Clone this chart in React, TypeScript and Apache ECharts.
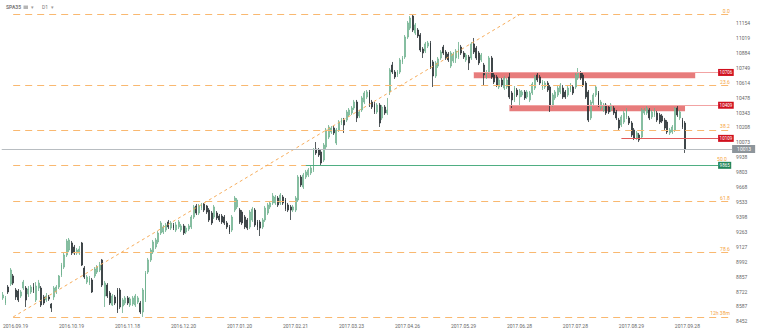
import React, { useEffect, useRef } from 'react';
import * as echarts from 'echarts';

// Daily candles [open, close, low, high], 2016-09-19 .. 2017-10-04
const ohlc: number[][] = [
  [8664,8691,8646,8718],[8618,8664,8600,8682],[8763,8718,8700,8781],[8790,8917,8772,8935],[8863,8799,8781,8881],
  [8736,8673,8646,8754],[8727,8646,8627,8745],[8682,8718,8664,8736],[8754,8808,8736,8827],[8754,8646,8582,8772],
  [8700,8745,8673,8772],[8718,8763,8700,8781],[8763,8736,8709,8799],[8646,8772,8627,8808],[8754,8799,8727,8827],
  [8754,8600,8582,8772],[8673,8618,8600,8691],[8646,8682,8627,8709],[8673,8655,8637,8691],[8609,8573,8537,8618],
  [8673,8754,8646,8772],[8718,8763,8700,8781],[8763,8863,8745,8872],[8872,8962,8854,8981],[8944,9053,8926,9071],
  [9053,9180,9035,9198],[9098,9189,9080,9207],[9162,9071,9053,9180],[9125,9071,9053,9144],[9071,9098,9053,9116],
  [9071,9107,9053,9134],[9162,8962,8953,9171],[8935,8854,8836,8953],[8808,8854,8790,8872],[8799,8845,8781,8863],
  [8827,8718,8709,8845],[8863,8926,8845,8944],[8899,8944,8881,8962],[8917,8962,8899,8990],[9008,8781,8763,9017],
  [8682,8799,8582,8818],[8781,8682,8664,8799],[8709,8618,8600,8727],[8600,8682,8591,8700],[8673,8618,8600,8691],
  [8736,8555,8528,8754],[8736,8582,8564,8754],[8591,8646,8528,8664],[8618,8664,8600,8682],[8664,8618,8600,8682],
  [8600,8655,8582,8673],[8609,8664,8591,8682],[8600,8682,8582,8700],[8627,8664,8609,8682],[8618,8537,8519,8637],
  [8537,8736,8492,8754],[8646,8890,8627,8908],[8899,9008,8881,9026],[9008,9098,8990,9116],[9080,9171,9062,9189],
  [9125,9189,9107,9207],[9171,9252,9153,9270],[9252,9343,9234,9361],[9261,9307,9243,9325],[9279,9325,9261,9343],
  [9352,9307,9288,9370],[9297,9343,9279,9361],[9325,9297,9279,9343],[9279,9325,9261,9352],[9307,9352,9288,9370],
  [9279,9316,9261,9334],[9316,9252,9234,9334],[9261,9297,9243,9316],[9288,9316,9270,9334],[9307,9397,9288,9415],
  [9397,9488,9379,9506],[9497,9433,9415,9515],[9433,9497,9415,9515],[9478,9506,9460,9524],[9515,9460,9442,9524],
  [9497,9442,9424,9506],[9460,9370,9352,9478],[9433,9343,9325,9451],[9397,9488,9379,9506],[9433,9388,9370,9451],
  [9406,9370,9352,9424],[9406,9352,9334,9424],[9397,9343,9325,9415],[9343,9307,9288,9361],[9307,9261,9243,9325],
  [9279,9397,9261,9415],[9460,9569,9442,9587],[9488,9551,9469,9569],[9460,9352,9334,9478],[9442,9343,9325,9460],
  [9397,9307,9288,9415],[9370,9297,9279,9388],[9307,9442,9288,9460],[9370,9469,9352,9488],[9460,9325,9307,9478],
  [9352,9307,9279,9370],[9352,9297,9225,9370],[9307,9370,9288,9388],[9370,9478,9352,9497],[9433,9506,9415,9524],
  [9488,9524,9469,9542],[9524,9587,9506,9614],[9524,9578,9506,9596],[9569,9506,9488,9587],[9524,9596,9506,9614],
  [9578,9524,9506,9596],[9551,9469,9451,9569],[9506,9460,9442,9524],[9488,9460,9370,9506],[9460,9488,9442,9506],
  [9460,9569,9442,9587],[9551,9759,9533,9777],[9759,9687,9669,9777],[9669,9777,9651,9796],[9759,9805,9741,9823],
  [9777,9823,9759,9841],[9796,9841,9777,9859],[9823,10004,9805,10022],[10013,9977,9959,10076],[10004,9959,9941,10022],
  [9986,9886,9868,10004],[9913,10049,9895,10067],[10031,10185,10013,10203],[10121,10212,10103,10230],[10167,10203,10149,10221],
  [10203,10158,10140,10221],[10067,10185,10049,10203],[10185,10257,10167,10275],[10248,10275,10230,10294],[10275,10230,10158,10294],
  [10275,10348,10257,10366],[10321,10366,10303,10384],[10339,10384,10321,10402],[10384,10438,10366,10457],[10438,10294,10257,10457],
  [10312,10348,10294,10366],[10366,10475,10348,10493],[10438,10520,10420,10538],[10484,10529,10466,10547],[10529,10411,10393,10547],
  [10438,10393,10375,10457],[10420,10348,10330,10438],[10348,10411,10330,10429],[10411,10248,10212,10429],[10294,10393,10275,10411],
  [10393,10339,10321,10411],[10339,10366,10321,10475],[10529,10728,10502,10746],[10773,10710,10692,10801],[10710,10665,10647,10728],
  [10683,10710,10665,10728],[10710,10819,10692,10837],[10801,10837,10782,10855],[10846,11027,10828,11045],[11027,11154,11009,11172],
  [11108,11199,11090,11217],[11217,11090,11072,11235],[11063,11136,11045,11154],[11090,11036,11018,11108],[11045,10909,10891,11063],
  [10918,10882,10837,10936],[10900,10964,10882,10982],[10945,10973,10927,10991],[10973,10755,10737,10991],[10801,10674,10574,10819],
  [10674,10792,10656,10810],[10764,10828,10746,10846],[10837,10891,10819,10909],[10936,10882,10864,10955],[10891,10837,10819,10909],
  [10873,10819,10801,10891],[10764,10882,10746,10900],[10810,10873,10792,10891],[10837,10900,10792,10918],[10846,10918,10828,10982],
  [10936,10882,10864,10955],[10882,10846,10828,10900],[10819,10864,10801,10882],[10846,10792,10728,10864],[10837,10964,10819,10982],
  [10964,10891,10873,11018],[10927,10837,10819,10945],[10882,10792,10773,10900],[10819,10864,10801,10882],[10773,10683,10592,10792],
  [10665,10710,10647,10728],[10710,10837,10692,10855],[10837,10665,10647,10855],[10683,10619,10601,10701],[10665,10592,10574,10683],
  [10574,10638,10556,10656],[10638,10592,10574,10656],[10565,10656,10547,10674],[10574,10638,10556,10656],[10665,10484,10466,10701],
  [10520,10457,10384,10538],[10457,10565,10438,10583],[10547,10502,10484,10565],[10484,10538,10411,10556],[10502,10529,10484,10547],
  [10529,10475,10457,10547],[10484,10529,10466,10547],[10457,10520,10438,10538],[10520,10601,10502,10619],[10565,10665,10547,10683],
  [10683,10638,10619,10701],[10665,10610,10592,10683],[10565,10619,10547,10638],[10574,10610,10556,10628],[10610,10547,10529,10628],
  [10574,10411,10348,10592],[10411,10502,10393,10520],[10475,10529,10457,10547],[10502,10565,10484,10583],[10529,10592,10511,10610],
  [10565,10484,10466,10592],[10529,10484,10466,10547],[10502,10565,10484,10583],[10547,10592,10529,10610],[10574,10520,10502,10592],
  [10574,10683,10556,10701],[10656,10701,10638,10746],[10701,10656,10638,10719],[10683,10592,10574,10701],[10610,10484,10466,10628],
  [10529,10275,10257,10547],[10294,10438,10275,10457],[10429,10502,10411,10520],[10502,10574,10484,10592],[10520,10411,10393,10538],
  [10384,10438,10366,10457],[10366,10411,10348,10429],[10411,10339,10321,10429],[10393,10348,10330,10411],[10366,10411,10348,10429],
  [10384,10339,10321,10402],[10348,10294,10275,10366],[10275,10203,10185,10294],[10230,10303,10212,10321],[10257,10339,10239,10357],
  [10303,10366,10284,10384],[10294,10248,10230,10312],[10248,10140,10121,10266],[10185,10112,10094,10203],[10112,10158,10094,10176],
  [10140,10094,10076,10158],[10121,10366,10103,10384],[10339,10366,10321,10384],[10339,10384,10321,10402],[10366,10294,10275,10384],
  [10303,10348,10284,10366],[10321,10366,10303,10384],[10339,10275,10257,10357],[10321,10257,10239,10339],[10312,10266,10248,10330],
  [10275,10203,10185,10294],[10257,10167,10149,10275],[10158,10185,10140,10203],[10167,10212,10149,10230],[10185,10384,10167,10393],
  [10384,10321,10303,10402],[10294,10348,10275,10366],[10275,10212,10194,10294],[10248,10013,9977,10266],
];

const yTicks = [8452, 8587, 8722, 8857, 8992, 9127, 9263, 9398, 9533, 9668, 9803, 9938, 10073, 10208, 10343, 10478, 10614, 10749, 10884, 11019, 11154];
const yMin = 8446.3;
const yMax = 11362;

const firstDate = [2016, 9, 19];
const marketHolidays = ['2016-12-26', '2017-04-14', '2017-04-17', '2017-05-01'];
const labelEvery = 22;
const futureSlots = 18;

const fibLevels = [11235, 10588, 10187, 9864, 9540, 9079, 8492];
const fibLabels = ['0.0', '23.6', '38.2', '50.0', '61.8', '78.6', '12h 38m'];
const fibLabelLift = [1, 1, 1, 4, 1, 1, 1];
const fibStart = 4;
const trendFrom = [4, 8492];
const trendTo = [203, 11230];

const zones = [
  { from: 185, to: 272, top: 10706, bottom: 10653 },
  { from: 199, to: 268, top: 10409, bottom: 10355 },
];
const tagIndex = 281;
const priceTags = [
  { from: 185, value: 10706, text: '10706', line: '#f2a3a3', bg: '#d0101e' },
  { from: 199, value: 10409, text: '10409', line: '#f2a3a3', bg: '#d0101e' },
  { from: 243, value: 10109, text: '10109', line: '#e25b5b', bg: '#d0101e' },
  { from: 119, value: 9865, text: '9865', line: '#4fae82', bg: '#22865a' },
];
const currentPrice = 10013;

function buildDates(n: number): string[] {
  const out: string[] = [];
  const d = new Date(Date.UTC(firstDate[0], firstDate[1] - 1, firstDate[2]));
  while (out.length < n) {
    const wd = d.getUTCDay();
    const y = d.getUTCFullYear();
    const m = String(d.getUTCMonth() + 1).padStart(2, '0');
    const dd = String(d.getUTCDate()).padStart(2, '0');
    if (wd !== 0 && wd !== 6 && !marketHolidays.includes(`${y}-${m}-${dd}`)) out.push(`${y}.${m}.${dd}`);
    d.setUTCDate(d.getUTCDate() + 1);
  }
  return out;
}

export default function App() {
  const ref = useRef<HTMLDivElement>(null);
  useEffect(() => {
    document.body.style.margin = '0';
    if (!ref.current) return;
    const chart = echarts.init(ref.current, undefined, { renderer: 'svg' });
    const dates = buildDates(ohlc.length);
    const categories = dates.concat(Array.from({ length: futureSlots }, (_, k) => `f${k}`));
    const lastIdx = categories.length - 1;
    const font = 'Roboto, sans-serif';

    const fibLines = fibLevels.map((v, k) => [
      {
        coord: [fibStart, v],
        lineStyle: { color: '#f9b870', type: [7, 5], width: 1 },
        label: { show: true, position: 'insideEndTop', formatter: fibLabels[k], color: '#f5a340', fontSize: 5, fontFamily: font, distance: fibLabelLift[k] },
      },
      { coord: [lastIdx, v] },
    ]);
    const trend = [
      { coord: trendFrom, lineStyle: { color: '#f7ad5c', type: [3, 3], width: 1 }, label: { show: false } },
      { coord: trendTo },
    ];
    const tags = priceTags.map((t) => [
      {
        coord: [t.from, t.value],
        lineStyle: { color: t.line, type: 'solid', width: 1 },
        label: {
          show: true, position: 'end', distance: 0, formatter: t.text, color: '#fff', fontSize: 4.5, fontFamily: font,
          backgroundColor: t.bg, padding: [1, 1.5, 1, 1.5], lineHeight: 5,
        },
      },
      { coord: [tagIndex, t.value] },
    ]);
    const current = {
      yAxis: currentPrice,
      lineStyle: { color: '#b8bdc1', type: 'solid', width: 1 },
      label: {
        show: true, position: 'end', distance: 0, formatter: String(currentPrice), color: '#fff', fontSize: 5, fontFamily: font,
        backgroundColor: '#8d959b', padding: [1.5, 4, 1.5, 5], lineHeight: 5,
      },
    };

    chart.setOption({
      animation: false,
      textStyle: { fontFamily: font },
      grid: { left: 1.1, top: 0, width: 731, height: 322, containLabel: false },
      xAxis: {
        type: 'category',
        data: categories,
        boundaryGap: true,
        axisLine: { show: false },
        axisTick: { show: false },
        splitLine: { show: false },
        axisLabel: {
          interval: (index: number) => index % labelEvery === 0 && index < ohlc.length,
          align: 'left',
          fontSize: 5,
          color: '#666',
          margin: 1,
          fontFamily: font,
        },
      },
      yAxis: {
        type: 'value',
        position: 'right',
        min: yMin,
        max: yMax,
        axisLine: { show: false },
        axisTick: { show: false },
        splitLine: { show: false },
        axisLabel: {
          customValues: yTicks, fontSize: 5, color: '#666', margin: 4, align: 'left', fontFamily: font,
          formatter: (v: number) => String(Math.round(v)),
        },
      },
      graphic: [
        { type: 'text', left: 6, top: 4, style: { text: 'SPA35', fontSize: 5, fill: '#7a7a7a', fontWeight: 'bold', fontFamily: font } },
        { type: 'rect', shape: { x: 23.5, y: 5.5, width: 4.5, height: 3.5 }, style: { fill: '#b5b5b5' } },
        { type: 'text', left: 31, top: 4, style: { text: '▾', fontSize: 5, fill: '#9a9a9a', fontFamily: font } },
        { type: 'text', left: 42, top: 4, style: { text: 'D1', fontSize: 5, fill: '#7a7a7a', fontFamily: font } },
        { type: 'text', left: 51, top: 4, style: { text: '▾', fontSize: 5, fill: '#9a9a9a', fontFamily: font } },
      ],
      series: [
        {
          type: 'candlestick',
          name: 'SPA35',
          data: ohlc,
          barWidth: 1.4,
          itemStyle: {
            color: '#d3ecdf',
            color0: '#2b3236',
            borderColor: '#6cb08d',
            borderColor0: '#2b3236',
            borderWidth: 0.8,
          },
          markArea: {
            silent: true,
            itemStyle: { color: 'rgba(222,74,74,0.72)' },
            data: zones.map((z) => [{ coord: [z.from, z.top] }, { coord: [z.to, z.bottom] }]),
          },
          markLine: {
            silent: true,
            symbol: ['none', 'none'],
            precision: 0,
            data: [...fibLines, trend, current, ...tags],
          },
        },
      ],
    });
    return () => chart.dispose();
  }, []);
  return <div ref={ref} style={{ width: 760, height: 333 }} />;
}
